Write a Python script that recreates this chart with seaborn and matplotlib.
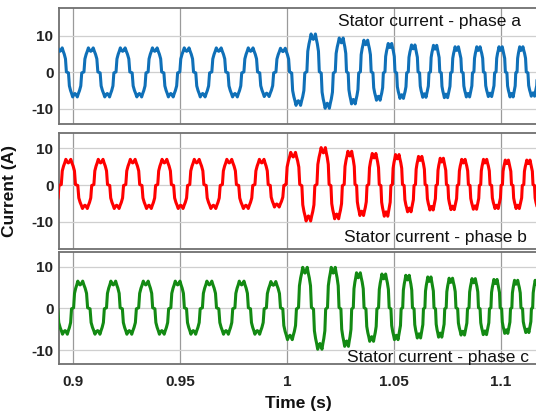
import numpy as np
import pandas as pd
import matplotlib
matplotlib.use("Agg")
import matplotlib.pyplot as plt
import seaborn as sns

# ---- data: extrema (time in s, current in A) ----
phase_a_t = [0.8939, 0.9009, 0.9083, 0.9160, 0.9232, 0.9310, 0.9382, 0.9457, 0.9531, 0.9606,
             0.9681, 0.9757, 0.9830, 0.9905, 0.9981, 1.0053, 1.0123, 1.0188, 1.0254, 1.0310,
             1.0368, 1.0427, 1.0481, 1.0536, 1.0590, 1.0642, 1.0692, 1.0743, 1.0793, 1.0846,
             1.0894, 1.0949, 1.0998, 1.1050, 1.1094, 1.1150, 1.1196]
phase_a_v = [6.7, -6.7, 6.7, -6.7, 6.7, -6.7, 6.7, -6.7, 6.7, -6.7,
             6.7, -6.7, 6.7, -6.6, 6.6, -9.0, 10.5, -9.8, 9.4, -8.6,
             8.8, -7.6, 7.9, -7.1, 7.5, -6.8, 7.4, -6.9, 7.0, -6.7,
             7.0, -6.6, 7.0, -6.7, 7.0, -6.5, 7.0]

phase_b_t = [0.8902, 0.8978, 0.9056, 0.9129, 0.9204, 0.9279, 0.9355, 0.9427, 0.9503, 0.9578,
             0.9656, 0.9730, 0.9808, 0.9882, 0.9952, 1.0029, 1.0100, 1.0170, 1.0232, 1.0294,
             1.0349, 1.0407, 1.0463, 1.0515, 1.0572, 1.0622, 1.0676, 1.0723, 1.0774, 1.0824,
             1.0879, 1.0925, 1.0980, 1.1027, 1.1078, 1.1128, 1.1178]
phase_b_v = [-6.4, 7.0, -6.4, 7.0, -6.4, 7.0, -6.4, 7.0, -6.4, 7.0,
             -6.4, 7.0, -6.4, 7.0, -6.0, 8.9, -9.8, 10.2, -9.2, 9.2,
             -8.3, 8.6, -8.5, 8.3, -7.3, 7.8, -6.8, 7.3, -6.7, 7.0,
             -6.6, 7.0, -6.4, 6.8, -6.4, 6.8, -6.4]

phase_c_t = [0.8883, 0.8963, 0.9033, 0.9115, 0.9188, 0.9263, 0.9340, 0.9415, 0.9489, 0.9562,
             0.9637, 0.9715, 0.9788, 0.9861, 0.9936, 1.0014, 1.0084, 1.0154, 1.0216, 1.0279,
             1.0333, 1.0396, 1.0452, 1.0511, 1.0563, 1.0617, 1.0665, 1.0716, 1.0765, 1.0822,
             1.0872, 1.0925, 1.0974, 1.1025, 1.1070, 1.1124, 1.1166, 1.1210]
phase_c_v = [6.5, -6.2, 6.5, -6.2, 6.5, -6.2, 6.5, -6.2, 6.5, -6.2,
             6.5, -6.2, 6.5, -6.2, 6.4, -7.5, 9.8, -9.8, 9.8, -9.1,
             8.5, -7.9, 8.2, -7.5, 7.9, -7.1, 7.5, -6.9, 7.2, -6.4,
             7.1, -6.3, 6.9, -6.0, 6.7, -5.8, 6.7, -5.8]

# one half-cycle shape (position -1..1 around an extremum, relative level)
shape_pos = [-1.0, -0.86, -0.74, -0.58, -0.44, -0.30, -0.14, 0.0, 0.14, 0.30, 0.44, 0.58, 0.74, 0.86, 1.0]
shape_lvl = [0.0, 0.02, 0.55, 0.74, 0.86, 1.0, 0.90, 0.86, 0.90, 1.0, 0.86, 0.74, 0.55, 0.02, 0.0]

labels = ["Stator current - phase a", "Stator current - phase b", "Stator current - phase c"]
colors = ["#0f70b8", "#ff0000", "#138a13"]
x_ticks = [0.9, 0.95, 1.0, 1.05, 1.1]
x_tick_labels = ["0.9", "0.95", "1", "1.05", "1.1"]
y_ticks = [-10, 0, 10]


def build_wave(tt, vv):
    tt = np.asarray(tt, float)
    vv = np.asarray(vv, float)
    sp = np.asarray(shape_pos)
    sl = np.asarray(shape_lvl)
    ts, ys = [], []
    for i in range(len(tt)):
        left = (tt[i] - tt[i - 1]) / 2 if i > 0 else (tt[1] - tt[0]) / 2
        right = (tt[i + 1] - tt[i]) / 2 if i < len(tt) - 1 else (tt[i] - tt[i - 1]) / 2
        seg_t = np.where(sp < 0, tt[i] + sp * left, tt[i] + sp * right)
        seg_y = vv[i] * sl
        if i > 0:
            seg_t, seg_y = seg_t[1:], seg_y[1:]
        ts.append(seg_t)
        ys.append(seg_y)
    return pd.DataFrame({"t": np.concatenate(ts), "i": np.concatenate(ys)})


sns.set_theme(style="white")
plt.rcParams["font.family"] = ["Liberation Sans", "DejaVu Sans"]

fig = plt.figure(figsize=(5.36, 4.15), dpi=100)
W, H = 536.0, 415.0
left_px, right_px = 59, 538
panels = [  # top px, bottom px, ylim
    (8, 124, (-14.1, 17.6)),
    (133.3, 248.5, (-17.3, 14.1)),
    (252.3, 364.3, (-13.4, 13.4)),
]
xlim = (0.89346, 1.11729)
text_pos = [(1.0238, 12.7), (1.0268, -15.4), (1.0279, -12.76)]

axes = []
for k, (top, bot, yl) in enumerate(panels):
    ax = fig.add_axes([left_px / W, 1 - bot / H, (right_px - left_px) / W, (bot - top) / H])
    df = build_wave([phase_a_t, phase_b_t, phase_c_t][k], [phase_a_v, phase_b_v, phase_c_v][k])
    sns.lineplot(data=df, x="t", y="i", ax=ax, color=colors[k], lw=2.2,
                 estimator=None, sort=False, zorder=3)
    ax.set_xlim(*xlim)
    ax.set_ylim(*yl)
    ax.set_xticks(x_ticks)
    ax.set_yticks(y_ticks)
    ax.set_yticklabels([str(v) for v in y_ticks], fontsize=11, fontweight="bold")
    if k < 2:
        ax.set_xticklabels([])
    else:
        ax.set_xticklabels(x_tick_labels, fontsize=11, fontweight="bold")
    ax.tick_params(axis="both", length=0, colors="#222222")
    ax.tick_params(axis="y", pad=4)
    ax.tick_params(axis="x", pad=8)
    ax.grid(axis="x", color="#9a9a9a", lw=0.9, zorder=1)
    ax.grid(axis="y", color="#cfcfcf", lw=0.9, zorder=1)
    for s in ax.spines.values():
        s.set_color("#707070")
        s.set_linewidth(1.3)
    ax.set_xlabel("")
    ax.set_ylabel("")
    ax.text(text_pos[k][0], text_pos[k][1], labels[k], fontsize=12.5, color="#111111",
            va="baseline", ha="left", zorder=5)
    axes.append(ax)

axes[1].set_ylabel("Current (A)", fontsize=12.5, fontweight="bold", color="#111111")
axes[1].yaxis.set_label_coords(-0.088, 0.5)
axes[2].set_xlabel("Time (s)", fontsize=12.5, fontweight="bold", color="#111111")
axes[2].xaxis.set_label_coords(0.5, -0.354)
axes[2].xaxis.label.set_va("center")

fig.savefig("out.png", dpi=100, facecolor="white")
